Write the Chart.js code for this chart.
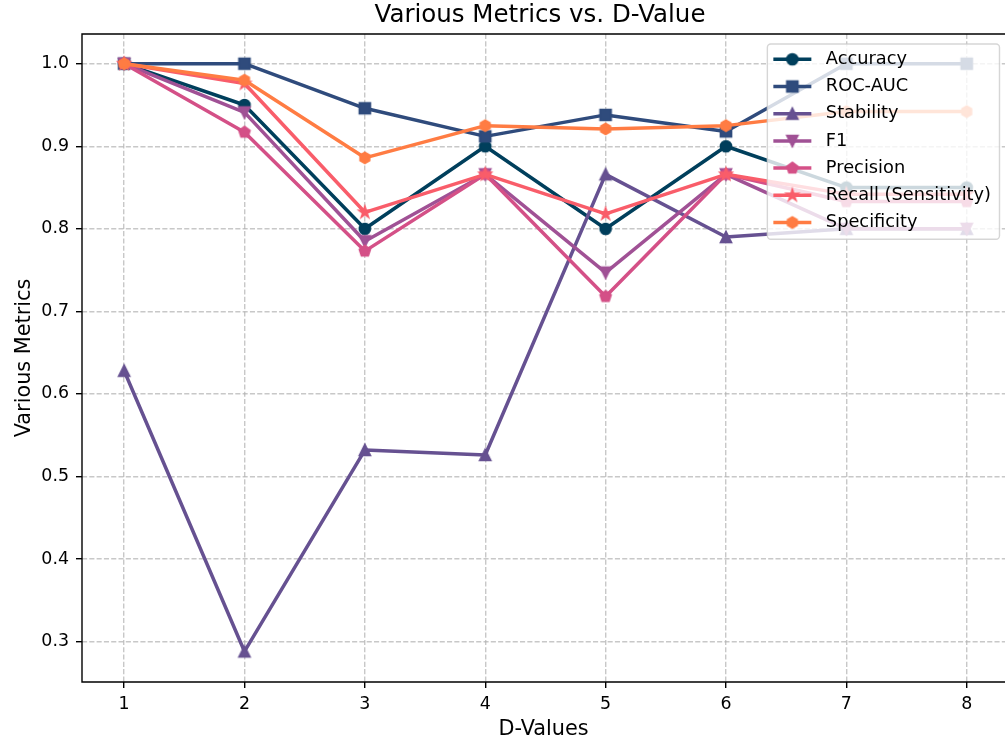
<!DOCTYPE html>
<html>
<head>
<meta charset="utf-8">
<title>Various Metrics vs. D-Value</title>
<script src="https://cdn.jsdelivr.net/npm/chart.js@4.4.0/dist/chart.umd.min.js"></script>
<style>
  html, body { margin: 0; padding: 0; background: #fff; overflow: hidden; }
  #metricsChart { display: block; }
</style>
</head>
<body>
<canvas id="metricsChart" width="1005" height="744"></canvas>
<script>
// ── data ──────────────────────────────────────────────
const dValues     = [1, 2, 3, 4, 5, 6, 7, 8];
const accuracy    = [1.0, 0.95, 0.80, 0.90, 0.80, 0.90, 0.85, 0.85];
const rocAuc      = [1.0, 1.0, 0.946, 0.912, 0.938, 0.918, 1.0, 1.0];
const stability   = [0.628, 0.288, 0.532, 0.526, 0.866, 0.790, 0.80, 0.80];
const f1          = [1.0, 0.941, 0.785, 0.866, 0.747, 0.866, 0.80, 0.80];
const precision   = [1.0, 0.917, 0.773, 0.866, 0.718, 0.866, 0.833, 0.833];
const recall      = [1.0, 0.976, 0.820, 0.866, 0.818, 0.866, 0.842, 0.842];
const specificity = [1.0, 0.980, 0.886, 0.925, 0.921, 0.925, 0.942, 0.942];

const seriesNames   = ['Accuracy', 'ROC-AUC', 'Stability', 'F1', 'Precision', 'Recall (Sensitivity)', 'Specificity'];
const seriesValues  = [accuracy, rocAuc, stability, f1, precision, recall, specificity];
const seriesColors  = ['#003f5c', '#2f4b7c', '#665191', '#a05195', '#d45087', '#f95d6a', '#ff7c43'];
const seriesMarkers = ['circle', 'square', 'triangleUp', 'triangleDown', 'pentagon', 'star', 'hexagon'];
const yTicks        = [0.3, 0.4, 0.5, 0.6, 0.7, 0.8, 0.9, 1.0];

const FONT = "'DejaVu Sans', 'Liberation Sans', sans-serif";
const GRID = 'rgba(176,176,176,0.7)';

// matplotlib-like markers drawn on small canvases
function polygonPoints(n, r, inner) {
  const pts = [];
  const count = inner ? n * 2 : n;
  for (let k = 0; k < count; k++) {
    const a = -Math.PI / 2 + k * Math.PI * 2 / count;
    const rr = inner && k % 2 ? r * inner : r;
    pts.push([Math.cos(a) * rr, Math.sin(a) * rr]);
  }
  return pts;
}

function makeMarker(shape, color) {
  const size = 26, c = size / 2, r = 5.5;
  const cv = document.createElement('canvas');
  cv.width = cv.height = size;
  const ctx = cv.getContext('2d');
  let pts = null;
  ctx.beginPath();
  if (shape === 'circle') ctx.arc(c, c, r, 0, Math.PI * 2);
  else if (shape === 'square') ctx.rect(c - r, c - r, 2 * r, 2 * r);
  else if (shape === 'triangleUp') pts = [[0, -r], [-r, r], [r, r]];
  else if (shape === 'triangleDown') pts = [[0, r], [-r, -r], [r, -r]];
  else if (shape === 'pentagon') pts = polygonPoints(5, r * 1.05);
  else if (shape === 'hexagon') pts = polygonPoints(6, r);
  else if (shape === 'star') pts = polygonPoints(5, r * 1.1, 0.381966);
  if (pts) {
    pts.forEach(([px, py], k) => k ? ctx.lineTo(c + px, c + py) : ctx.moveTo(c + px, c + py));
  }
  ctx.closePath();
  ctx.fillStyle = color;
  ctx.fill();
  ctx.lineWidth = 1.7;
  ctx.strokeStyle = color;
  ctx.stroke();
  return cv;
}

const markerImgs = seriesMarkers.map((m, i) => makeMarker(m, seriesColors[i]));

// title, spines and the framed legend are drawn by hand
const decorPlugin = {
  id: 'decor',
  afterDraw(chart) {
    const { ctx, chartArea: ca } = chart;
    ctx.save();

    // spines (the right one sits just past the page edge in the original)
    ctx.strokeStyle = '#000';
    ctx.lineWidth = 1.4;
    ctx.beginPath();
    ctx.moveTo(ca.right, ca.top);
    ctx.lineTo(ca.left, ca.top);
    ctx.lineTo(ca.left, ca.bottom);
    ctx.lineTo(ca.right, ca.bottom);
    ctx.stroke();

    // title, centred on the full (uncropped) axes
    ctx.fillStyle = '#000';
    ctx.font = `24.5px ${FONT}`;
    ctx.textAlign = 'center';
    ctx.textBaseline = 'middle';
    ctx.fillText('Various Metrics vs. D-Value', 540, 16);

    // legend
    ctx.font = `17.8px ${FONT}`;
    const textW = Math.max(...seriesNames.map(n => ctx.measureText(n).width));
    const right = ca.right - 5.5;
    const top = ca.top + 10;
    const left = right - (58.5 + textW + 8.5);
    const rowH = 27.2;
    const height = 31 + rowH * (seriesNames.length - 1) + 1;
    ctx.beginPath();
    ctx.roundRect(left, top, right - left, height, 3.5);
    ctx.fillStyle = 'rgba(255,255,255,0.8)';
    ctx.fill();
    ctx.strokeStyle = 'rgba(204,204,204,0.8)';
    ctx.lineWidth = 1.4;
    ctx.stroke();

    ctx.textAlign = 'left';
    seriesNames.forEach((name, i) => {
      const y = top + 15.3 + rowH * i;
      ctx.beginPath();
      ctx.moveTo(left + 6, y);
      ctx.lineTo(left + 44, y);
      ctx.strokeStyle = seriesColors[i];
      ctx.lineWidth = 3.5;
      ctx.stroke();
      const img = markerImgs[i];
      ctx.drawImage(img, left + 25 - img.width / 2, y - img.height / 2);
      ctx.fillStyle = '#000';
      ctx.fillText(name, left + 58.5, y);
    });

    ctx.restore();
  }
};

const datasets = seriesNames.map((name, i) => ({
  label: name,
  data: dValues.map((d, j) => ({ x: d, y: seriesValues[i][j] })),
  borderColor: seriesColors[i],
  backgroundColor: seriesColors[i],
  borderWidth: 3.5,
  borderJoinStyle: 'round',
  pointStyle: markerImgs[i],
  pointRadius: 6,
  pointHoverRadius: 6,
  tension: 0,
  order: seriesNames.length - 1 - i
}));

new Chart(document.getElementById('metricsChart'), {
  type: 'line',
  data: { datasets },
  plugins: [decorPlugin],
  options: {
    responsive: false,
    animation: false,
    devicePixelRatio: 1,
    layout: { autoPadding: false, padding: { top: 34, right: 0, left: 0, bottom: 0 } },
    plugins: { legend: { display: false }, tooltip: { enabled: false }, title: { display: false } },
    scales: {
      x: {
        type: 'linear',
        min: 0.65,
        max: 8.318,
        afterBuildTicks: s => { s.ticks = dValues.map(v => ({ value: v })); },
        afterFit: s => { s.height = 62; s.paddingLeft = 0; s.paddingRight = 0; },
        ticks: { font: { family: FONT, size: 17.4 }, color: '#000', padding: 6, autoSkip: false, maxRotation: 0,
                 callback: v => String(v) },
        grid: { color: GRID, lineWidth: 1.4, tickLength: 6, tickColor: '#000', tickWidth: 1.4, tickBorderDash: [] },
        border: { display: false, dash: [5.1, 2.2] },
        title: { display: true, text: 'D-Values', color: '#000', font: { family: FONT, size: 20.8 },
                 padding: { top: 0, bottom: 2 } }
      },
      y: {
        type: 'linear',
        min: 0.251,
        max: 1.036,
        afterBuildTicks: s => { s.ticks = yTicks.map(v => ({ value: v })); },
        afterFit: s => { s.width = 82; s.paddingTop = 0; s.paddingBottom = 0; },
        ticks: { font: { family: FONT, size: 17.4 }, color: '#000', padding: 7,
                 callback: v => v.toFixed(1) },
        grid: { color: GRID, lineWidth: 1.4, tickLength: 6, tickColor: '#000', tickWidth: 1.4, tickBorderDash: [] },
        border: { display: false, dash: [5.1, 2.2] },
        title: { display: true, text: 'Various Metrics', color: '#000', font: { family: FONT, size: 20.8 },
                 padding: { top: 12, bottom: 0 } }
      }
    }
  }
});
</script>
</body>
</html>
